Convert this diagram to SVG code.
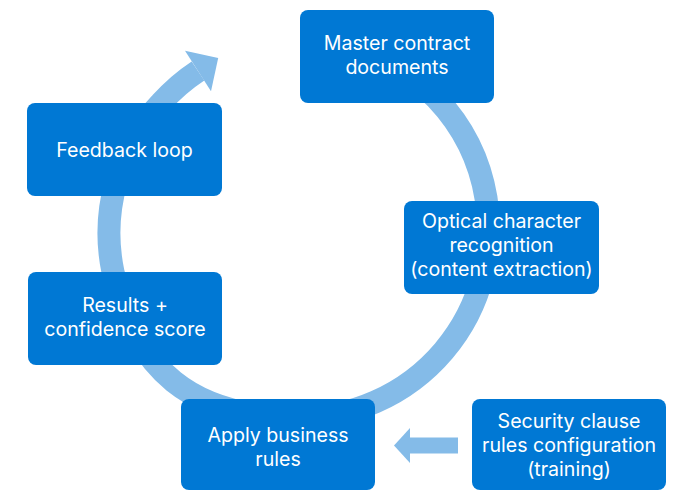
<svg xmlns="http://www.w3.org/2000/svg" width="677" height="491" viewBox="0 0 677 491">
<style>
.box{fill:#0078d4}
.t{fill:#ffffff;font-family:"Inter","Open Sans","DejaVu Sans",sans-serif;font-size:19.6px;text-anchor:middle}
.ring{fill:none;stroke:#84bbe8;stroke-width:23}
.ah{fill:#84bbe8}
</style>
<rect width="677" height="491" fill="#ffffff"/>
<g id="connectors">
<path class="ring" d="M340,44.2 A189,189 0 0 1 486,198 A189,189 0 0 1 300,417.8 C190,418 135.6,369.4 113,272 A189,189 0 0 1 161,103 A189,189 0 0 1 198,71"/>
<polygon class="ah" points="185,50.8 218.2,58 211,91.2"/>
<rect class="ah" x="409" y="437.5" width="49" height="16"/>
<polygon class="ah" points="410,428 394,445.5 410,463"/>
</g>
<g id="master">
<rect class="box" x="300" y="10" width="194" height="93" rx="8"/>
<text class="t" x="397" y="50">Master contract</text>
<text class="t" x="397" y="74">documents</text>
</g>
<g id="ocr">
<rect class="box" x="404" y="201" width="195" height="93" rx="8"/>
<text class="t" x="501.5" y="228">Optical character</text>
<text class="t" x="501.5" y="252">recognition</text>
<text class="t" x="501.5" y="276">(content extraction)</text>
</g>
<g id="apply">
<rect class="box" x="181" y="399" width="194" height="91" rx="8"/>
<text class="t" x="278" y="442">Apply business</text>
<text class="t" x="278" y="466">rules</text>
</g>
<g id="security">
<rect class="box" x="472" y="399" width="194" height="91" rx="8"/>
<text class="t" x="569" y="428">Security clause</text>
<text class="t" x="569" y="452">rules configuration</text>
<text class="t" x="569" y="476">(training)</text>
</g>
<g id="results">
<rect class="box" x="28" y="272" width="194" height="93" rx="8"/>
<text class="t" x="125" y="312">Results +</text>
<text class="t" x="125" y="336">confidence score</text>
</g>
<g id="feedback">
<rect class="box" x="27" y="103" width="195" height="93" rx="8"/>
<text class="t" x="124.5" y="157">Feedback loop</text>
</g>
</svg>
